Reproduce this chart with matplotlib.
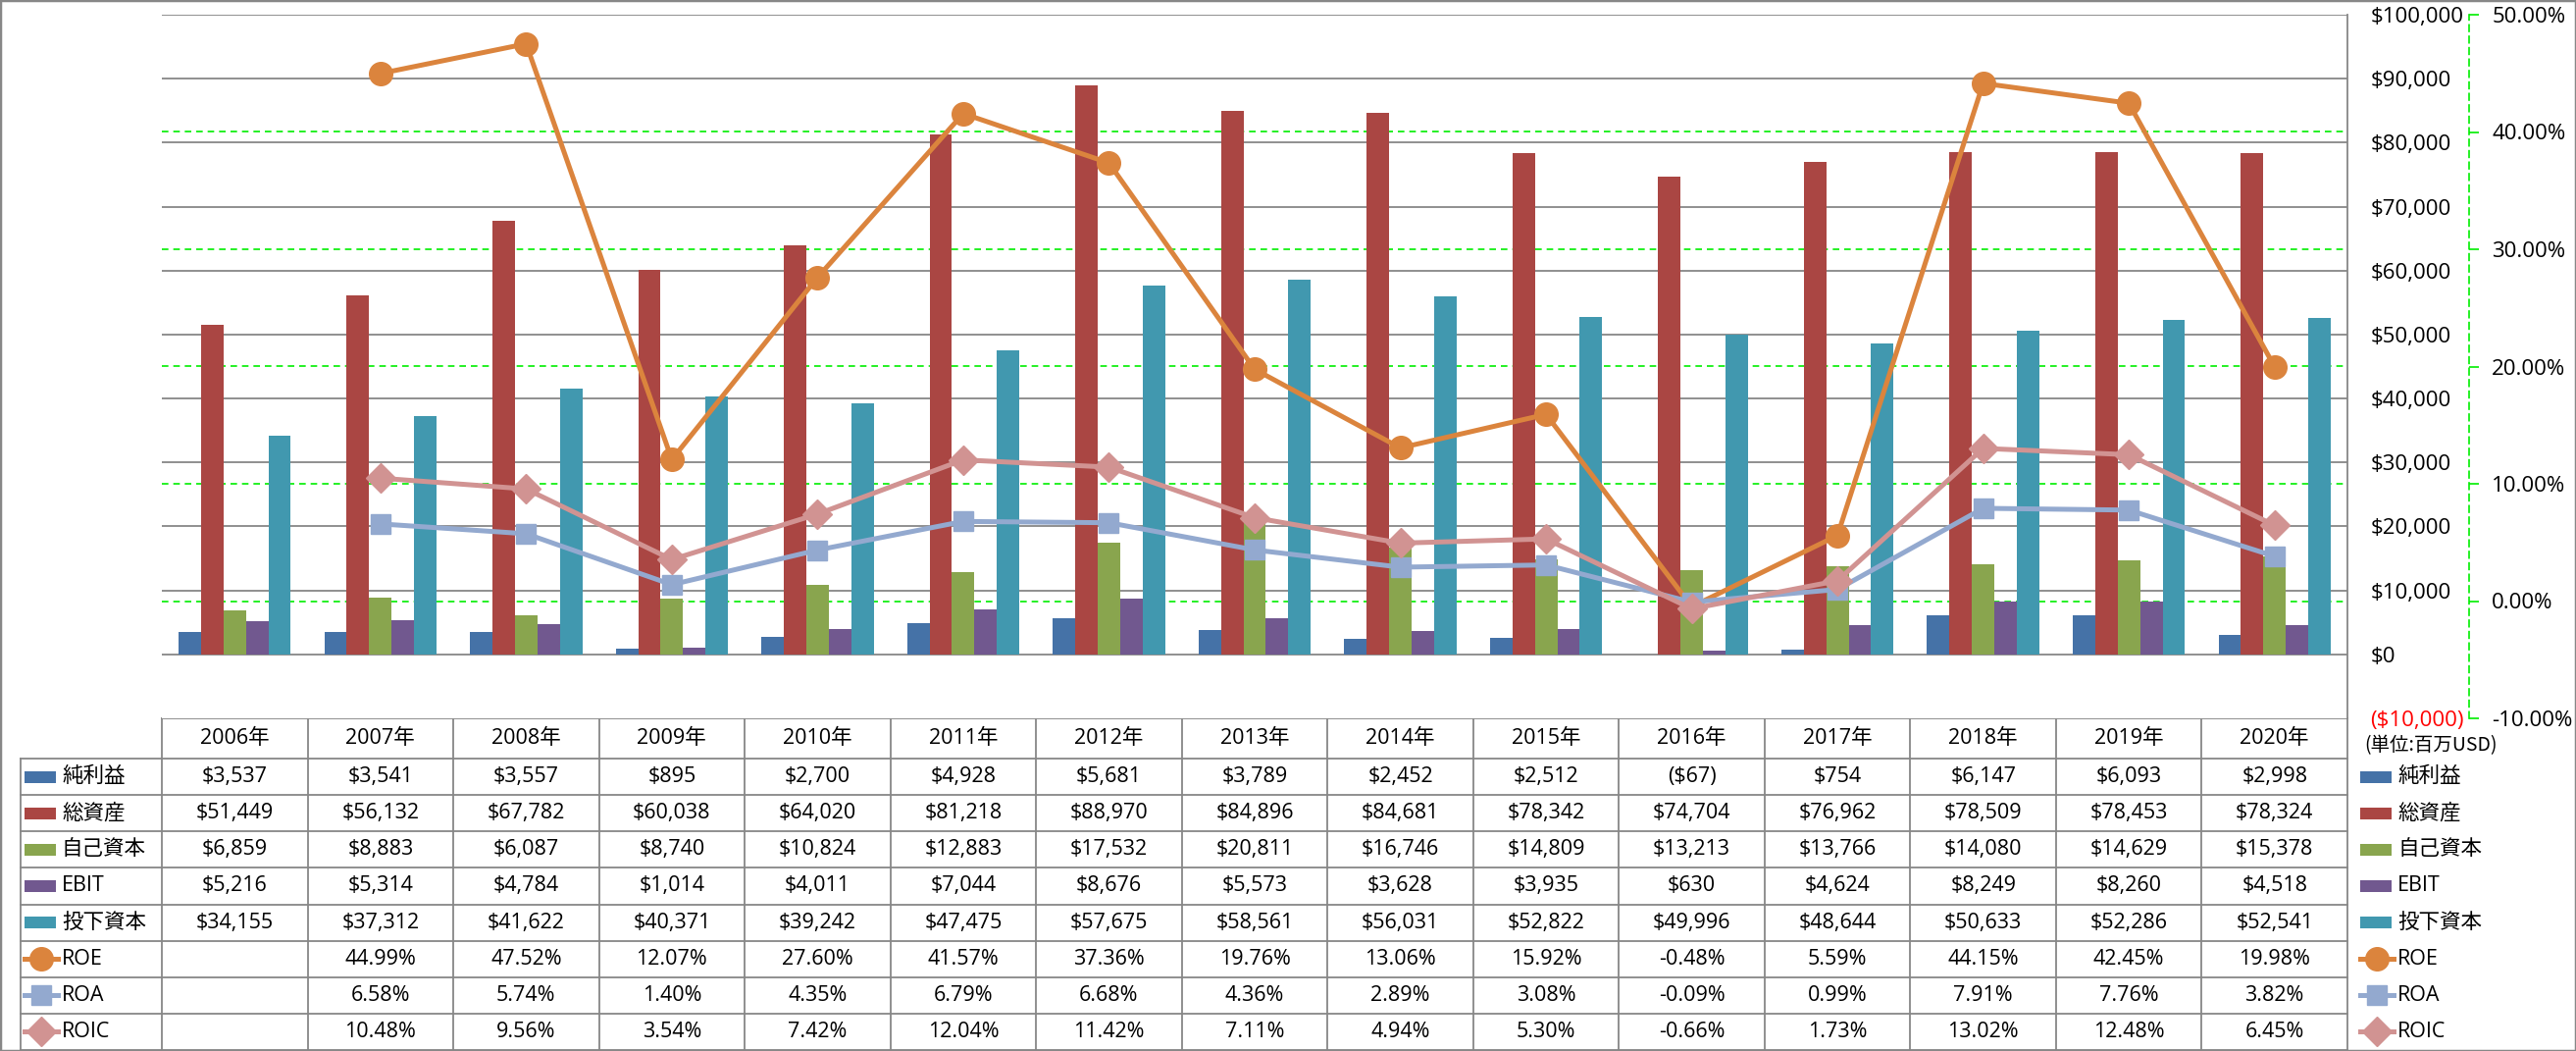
import numpy as np
import matplotlib.pyplot as plt
from matplotlib.patches import Rectangle
from matplotlib.lines import Line2D

plt.rcParams['font.family'] = ['Open Sans', 'Noto Sans CJK JP', 'DejaVu Sans']

##########################################################
# data
##########################################################
years = ['2006年', '2007年', '2008年', '2009年', '2010年', '2011年', '2012年', '2013年',
         '2014年', '2015年', '2016年', '2017年', '2018年', '2019年', '2020年']
net_income = [3537, 3541, 3557, 895, 2700, 4928, 5681, 3789, 2452, 2512, -67, 754, 6147, 6093, 2998]
total_assets = [51449, 56132, 67782, 60038, 64020, 81218, 88970, 84896, 84681, 78342, 74704, 76962, 78509, 78453, 78324]
equity = [6859, 8883, 6087, 8740, 10824, 12883, 17532, 20811, 16746, 14809, 13213, 13766, 14080, 14629, 15378]
ebit = [5216, 5314, 4784, 1014, 4011, 7044, 8676, 5573, 3628, 3935, 630, 4624, 8249, 8260, 4518]
invested = [34155, 37312, 41622, 40371, 39242, 47475, 57675, 58561, 56031, 52822, 49996, 48644, 50633, 52286, 52541]
roe = [np.nan, 44.99, 47.52, 12.07, 27.60, 41.57, 37.36, 19.76, 13.06, 15.92, -0.48, 5.59, 44.15, 42.45, 19.98]
roa = [np.nan, 6.58, 5.74, 1.40, 4.35, 6.79, 6.68, 4.36, 2.89, 3.08, -0.09, 0.99, 7.91, 7.76, 3.82]
roic = [np.nan, 10.48, 9.56, 3.54, 7.42, 12.04, 11.42, 7.11, 4.94, 5.30, -0.66, 1.73, 13.02, 12.48, 6.45]

bar_names = ['純利益', '総資産', '自己資本', 'EBIT', '投下資本']
bar_series = [net_income, total_assets, equity, ebit, invested]
bar_colors = ['#4572A7', '#AA4643', '#89A54E', '#71588F', '#4198AF']
line_names = ['ROE', 'ROA', 'ROIC']
line_series = [roe, roa, roic]
line_colors = ['#DB843D', '#93A9CF', '#D19392']
line_markers = ['o', 's', 'D']
line_msize = [17, 15, 15]

##########################################################
# layout (pixels)
##########################################################
W, H = 2626, 1071
PL, PR, PT, PB = 165, 2393, 15, 732
GRAY = '#878787'
GREEN = '#00EE00'
FS = 15.5
AFS = 16

fig = plt.figure(figsize=(W / 100, H / 100), dpi=100)
fig.patches.append(Rectangle((0, 0), 1, 1, transform=fig.transFigure, fill=False,
                             edgecolor=GRAY, lw=2.5))

ax = fig.add_axes([PL / W, 1 - PB / H, (PR - PL) / W, (PB - PT) / H])
x = np.arange(len(years))
bw = 0.154
for i, (vals, c) in enumerate(zip(bar_series, bar_colors)):
    ax.bar(x + (i - 2) * bw, vals, bw, color=c, zorder=3)
ax.set_xlim(-0.5, len(years) - 0.5)
ax.set_ylim(-10000, 100000)
yt = np.arange(-10000, 100001, 10000)
ax.set_xticks([])
for v in yt[1:]:
    ax.axhline(v, color=GRAY, lw=1.3, zorder=1)

# secondary axis (percent)
ax2 = ax.twinx()
ax2.set_ylim(-10, 50)
pt = np.arange(-10, 51, 10)
ax2.set_yticks(pt)
ax2.set_yticklabels([f'{v:.2f}%' for v in pt])
ax2.tick_params(axis='y', direction='out', length=7, color=GREEN, width=1.2, pad=10,
                labelsize=AFS)
for lab, v in zip(ax2.get_yticklabels(), pt):
    if v < 0:
        lab.set_color('red')
for s in ['top', 'left', 'bottom']:
    ax2.spines[s].set_visible(False)
ax2.spines['right'].set_position(('outward', 89))
ax2.spines['right'].set_color(GREEN)
ax2.spines['right'].set_linestyle((0, (4, 3)))
ax2.spines['right'].set_linewidth(1.2)

# primary labels on the right too
ax.yaxis.tick_right()
ax.set_yticks(yt)
ax.set_yticklabels([f'${v:,}' if v >= 0 else f'(${-v:,})' for v in yt])
ax.tick_params(axis='y', length=0, pad=17, labelsize=AFS, labelleft=False, labelright=True)
for lab, v in zip(ax.get_yticklabels(), yt):
    if v < 0:
        lab.set_color('red')
for s in ['top', 'left', 'bottom']:
    ax.spines[s].set_visible(False)
ax.spines['right'].set_color(GRAY)
ax.spines['right'].set_linewidth(1.3)

for v in pt[1:-1]:
    ax.axhline(-10000 + (v + 10) / 60 * 110000, color=GREEN, lw=1.2,
               ls=(0, (4, 3)), zorder=2)
for vals, c, m, ms in zip(line_series, line_colors, line_markers, line_msize):
    ax2.plot(x, vals, color=c, lw=3.6, marker=m, markersize=ms, zorder=4)

##########################################################
# data table
##########################################################
tb = fig.add_axes([0, 0, 1, 1], zorder=-1)
tb.set_xlim(0, W)
tb.set_ylim(H, 0)
tb.axis('off')
col_w = (PR - PL) / len(years)
cols = PL + np.arange(len(years) + 1) * col_w
rows = np.linspace(773, 1070, 9)
TL = 21
tb.plot([PL, PR], [PB, PB], color=GRAY, lw=1.3)
for r in rows:
    tb.plot([TL, PR], [r, r], color=GRAY, lw=1.3)
tb.plot([TL, TL], [rows[0], rows[-1]], color=GRAY, lw=1.3)
for cx in cols:
    tb.plot([cx, cx], [PB, rows[-1]], color=GRAY, lw=1.3)
for j, y in enumerate(years):
    tb.text(cols[j] + col_w / 2, (PB + rows[0]) / 2, y, ha='center', va='center', fontsize=FS)


def money(v):
    return f'${v:,}' if v >= 0 else f'(${-v:,})'


def pct(v):
    return '' if np.isnan(v) else f'{v:.2f}%'


names = bar_names + line_names
colors = bar_colors + line_colors
texts = [[money(v) for v in s] for s in bar_series] + [[pct(v) for v in s] for s in line_series]
for i in range(8):
    yc = (rows[i] + rows[i + 1]) / 2
    for j in range(len(years)):
        tb.text(cols[j] + col_w / 2, yc, texts[i][j], ha='center', va='center', fontsize=FS)
    for kx in [TL + 4, 2406]:
        if i < 5:
            tb.add_patch(Rectangle((kx, yc - 6), 32, 12, color=colors[i], lw=0))
        else:
            m = line_markers[i - 5]
            tb.add_line(Line2D([kx, kx + 34], [yc, yc], color=colors[i], lw=3.6))
            tb.add_line(Line2D([kx + 17], [yc], color=colors[i], marker=m,
                               markersize=line_msize[i - 5]))
        tb.text(kx + 38, yc, names[i], ha='left', va='center', fontsize=FS)
tb.text(2410, 760, '(単位:百万USD)', ha='left', va='center', fontsize=14, color='black',
        family=['Noto Sans CJK JP'])

fig.savefig('out.png', dpi=100)
